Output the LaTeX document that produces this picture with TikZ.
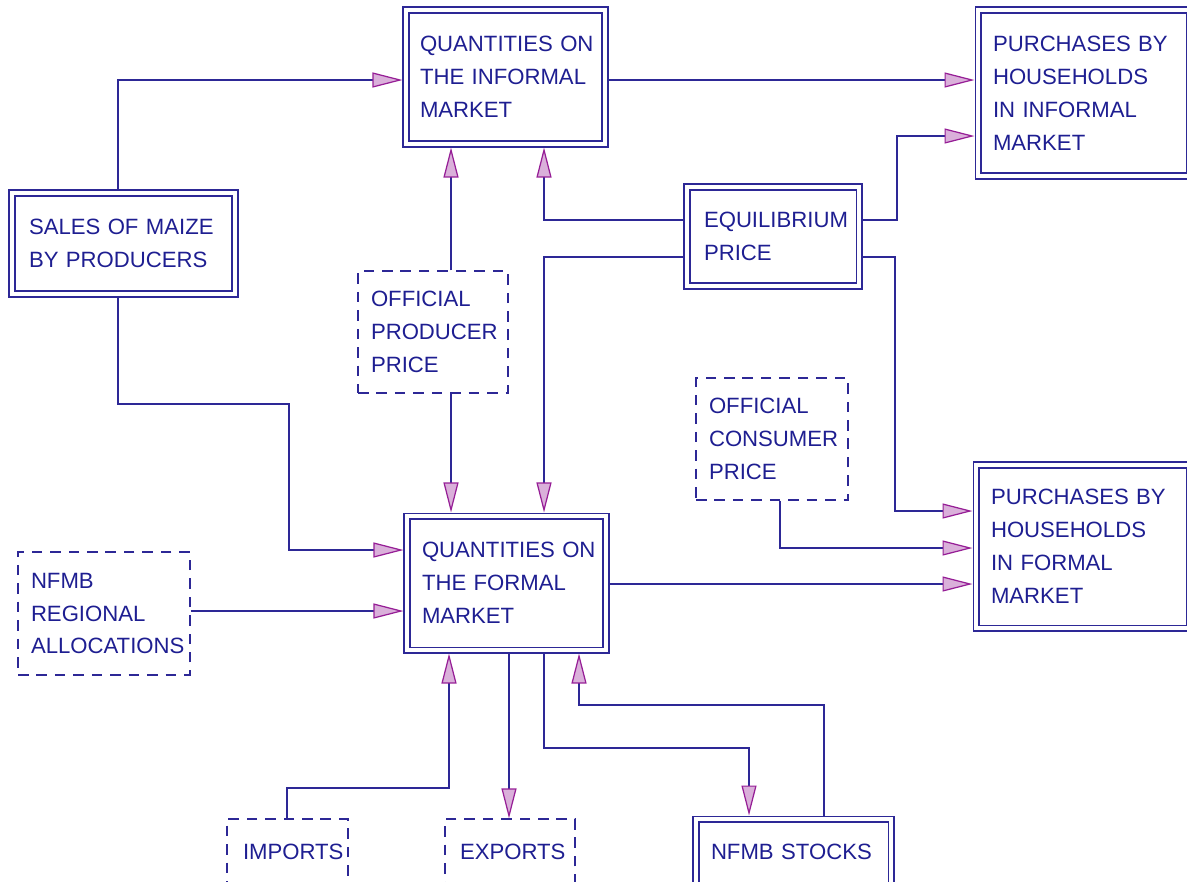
\documentclass[tikz,border=0pt]{standalone}
\usepackage{xcolor}
\usepackage{fontspec}
\usepackage{tikz}
\usetikzlibrary{arrows.meta, positioning, calc}
\newfontfamily\cadfont{Liberation Sans}
\definecolor{linenavy}{RGB}{45, 40, 150}
\definecolor{textnavy}{RGB}{30, 30, 145}
\definecolor{tippurple}{RGB}{150, 30, 150}
\hyphenpenalty=10000

\begin{document}
\begin{tikzpicture}[
    x=0.2mm, y=-0.2mm,
    every node/.style={
        font=\cadfont\fontsize{12.6}{18.7}\selectfont,
        text=textnavy
    },
    boxsize/.style 2 args={
        minimum width=#1*0.2mm,
        minimum height=#2*0.2mm
    },
    textw/.style={text width=#1*0.2mm},
    dbox/.style={
        rectangle,
        draw=linenavy,
        line width=0.7pt,
        double=white,
        double distance=2.6pt,
        outer sep=2pt,
        inner xsep=0pt,
        align=left
    },
    dashbox/.style={
        rectangle,
        draw=linenavy,
        line width=0.7pt,
        dash pattern=on 6pt off 4.5pt,
        inner xsep=0pt,
        align=left
    },
    arrow/.style={
        line width=0.7pt,
        draw=linenavy,
        -{Triangle[length=6mm, width=3mm, color=tippurple, fill=tippurple!35]}
    }
]

\clip (0,0) rectangle (1187,881);

% ==================== BOXES ====================

\node (informal) [dbox, boxsize={199}{134}, textw=171] at (505.5, 77)
    {QUANTITIES~ON\\THE~INFORMAL\\MARKET};
\node (pinformal) [dbox, boxsize={211}{166}, textw=181] at (1083.5, 93)
    {PURCHASES~BY\\HOUSEHOLDS\\IN~INFORMAL\\MARKET};
\node (equil) [dbox, boxsize={172}{99}, textw=138] at (773, 236.5)
    {EQUILIBRIUM\\PRICE};
\node (sales) [dbox, boxsize={223}{101}, textw=189] at (123.5, 243.5)
    {SALES~OF~MAIZE\\BY~PRODUCERS};
\node (producer) [dashbox, boxsize={150}{122}, textw=124] at (433, 332)
    {OFFICIAL\\PRODUCER\\PRICE};
\node (consumer) [dashbox, boxsize={152}{122}, textw=126] at (772, 439)
    {OFFICIAL\\CONSUMER\\PRICE};
\node (pformal) [dbox, boxsize={213}{163}, textw=183] at (1082.5, 546.5)
    {PURCHASES~BY\\HOUSEHOLDS\\IN~FORMAL\\MARKET};
\node (formal) [dbox, boxsize={199}{134}, textw=169] at (506.5, 583)
    {QUANTITIES~ON\\THE~FORMAL\\MARKET};
\node (regional) [dashbox, boxsize={172}{123}, textw=146] at (104, 613.5)
    {NFMB\\REGIONAL\\ALLOCATIONS};
\node (imports) [dashbox, boxsize={121}{65}, textw=89] at (287.5, 851.5)
    {IMPORTS};
\node (exports) [dashbox, boxsize={130}{65}, textw=100] at (510, 851.5)
    {EXPORTS};
\node (stocks) [dbox, boxsize={195}{66}, textw=165] at (793.5, 852)
    {NFMB~STOCKS};

% ==================== INFORMAL MARKET ====================

\draw [arrow] (118,0 |- sales.north) |- (informal.west |- 0,80);
\draw [arrow] (informal.east |- 0,80) -- (pinformal.west |- 0,80);
\draw [arrow] (equil.east |- 0,220) -- (897,220) |- (pinformal.west |- 0,136);
\draw [arrow] (equil.west |- 0,220) -| (informal.south -| 544,0);
\draw [arrow] (producer.north -| 451,0) -- (informal.south -| 451,0);

% ==================== FORMAL MARKET ====================

\draw [arrow] (producer.south -| 451,0) -- (formal.north -| 451,0);
\draw [arrow] (equil.west |- 0,257) -| (formal.north -| 544,0);
\draw [arrow] (equil.east |- 0,257) -- (895,257) |- (pformal.west |- 0,511);
\draw [arrow] (consumer.south -| 780,0) |- (pformal.west |- 0,548);
\draw [arrow] (formal.east |- 0,584) -- (pformal.west |- 0,584);
\draw [arrow] (118,0 |- sales.south) |- (289,404) |- (formal.west |- 0,550);
\draw [arrow] (regional.east |- 0,611) -- (formal.west |- 0,611);

% ==================== TRADE AND STOCKS ====================

\draw [arrow] (287,0 |- imports.north) |- (449,788) -- (formal.south -| 449,0);
\draw [arrow] (formal.south -| 509,0) -- (exports.north -| 509,0);
\draw [arrow] (formal.south -| 544,0) |- (749,748) -- (stocks.north -| 749,0);
\draw [arrow] (stocks.north -| 824,0) |- (579,705) -- (formal.south -| 579,0);

\end{tikzpicture}
\end{document}
